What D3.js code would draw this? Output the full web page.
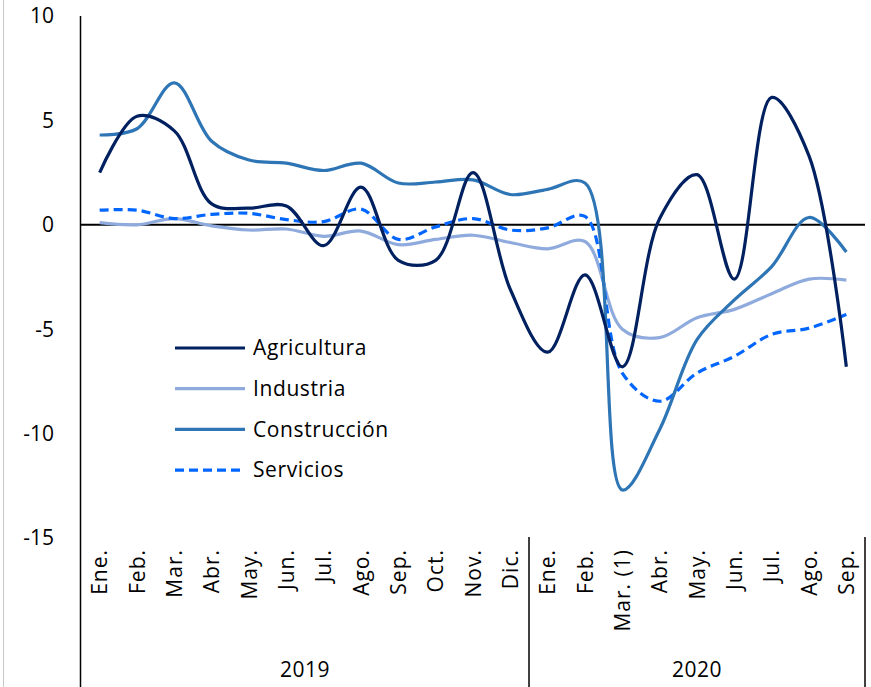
<!DOCTYPE html>
<html>
<head>
<meta charset="utf-8">
<script src="https://cdn.jsdelivr.net/npm/d3@7"></script>
<style>
  body { margin: 0; background: #fff; }
  svg { display: block; font-family: "Open Sans", Lato, sans-serif; }
</style>
</head>
<body>
<script>
var months2019 = ['Ene.', 'Feb.', 'Mar.', 'Abr.', 'May.', 'Jun.', 'Jul.', 'Ago.', 'Sep.', 'Oct.', 'Nov.', 'Dic.'];
var months2020 = ['Ene.', 'Feb.', 'Mar. (1)', 'Abr.', 'May.', 'Jun.', 'Jul.', 'Ago.', 'Sep.'];
var years = ['2019', '2020'];
var yTicks = [10, 5, 0, -5, -10, -15];

var agricultura  = [2.5, 5.2, 4.5, 1.0, 0.8, 0.9, -1.0, 1.8, -1.7, -1.7, 2.5, -3.1,
                    -6.1, -2.4, -6.8, 0.3, 2.4, -2.6, 6.1, 3.3, -6.8];
var industria    = [0.1, 0.0, 0.3, -0.05, -0.25, -0.2, -0.55, -0.3, -0.95, -0.7, -0.5, -0.85,
                    -1.15, -0.8, -5.0, -5.4, -4.45, -4.05, -3.3, -2.6, -2.65];
var construccion = [4.3, 4.6, 6.8, 4.0, 3.1, 2.95, 2.6, 2.95, 2.0, 2.05, 2.15, 1.45,
                    1.7, 2.0, -12.7, -9.8, -5.5, -3.6, -2.0, 0.35, -1.3];
var servicios    = [0.7, 0.7, 0.3, 0.5, 0.55, 0.25, 0.15, 0.75, -0.7, -0.1, 0.3, -0.25,
                    -0.15, 0.4, -7.1, -8.45, -7.1, -6.3, -5.25, -4.95, -4.3];

var seriesNames = ['Agricultura', 'Industria', 'Construcción', 'Servicios'];
var seriesColors = ['#002060', '#8faadc', '#2e75b6', '#0066ff'];
var seriesValues = [agricultura, industria, construccion, servicios];

(function(){
'use strict';

var width = 871;
var height = 687;
var plotLeft = 81, plotRight = 865, plotTop = 16, plotBottom = 538;

var categories = months2019.map(function(m){ return {label: m, year: 0}; })
  .concat(months2020.map(function(m){ return {label: m, year: 1}; }));

var svg = d3.select('body').append('svg')
  .attr('width', width)
  .attr('height', height);

var x = d3.scaleBand()
  .domain(d3.range(categories.length))
  .range([plotLeft, plotRight]);

var y = d3.scaleLinear()
  .domain([-15, 10])
  .range([plotBottom, plotTop]);

function cx(i){ return x(i) + x.bandwidth() / 2; }

// thin frame line at far left
svg.append('line')
  .attr('x1', 3.5).attr('x2', 3.5)
  .attr('y1', 0).attr('y2', height)
  .attr('stroke', '#c8c8c8').attr('stroke-width', 1);

// y axis labels
svg.selectAll('.ytick')
  .data(yTicks)
  .enter()
  .append('text')
  .attr('class', 'ytick')
  .attr('x', 54)
  .attr('y', function(d){ return y(d); })
  .attr('dy', '0.35em')
  .attr('text-anchor', 'end')
  .attr('font-size', 21)
  .attr('fill', '#000')
  .text(function(d){ return d; });

// y axis line
svg.append('line')
  .attr('x1', plotLeft - 0.5).attr('x2', plotLeft - 0.5)
  .attr('y1', plotTop).attr('y2', height)
  .attr('stroke', '#000').attr('stroke-width', 1.5);

// zero line
svg.append('line')
  .attr('x1', plotLeft).attr('x2', plotRight)
  .attr('y1', y(0)).attr('y2', y(0))
  .attr('stroke', '#000').attr('stroke-width', 2);

// year separators
var sepX = [x(months2019.length), plotRight];
svg.selectAll('.sep')
  .data(sepX)
  .enter()
  .append('line')
  .attr('x1', function(d){ return d; })
  .attr('x2', function(d){ return d; })
  .attr('y1', plotBottom - 1)
  .attr('y2', height)
  .attr('stroke', '#000').attr('stroke-width', 1.5);

// category labels
svg.selectAll('.cat')
  .data(categories)
  .enter()
  .append('text')
  .attr('class', 'cat')
  .attr('transform', function(d, i){ return 'translate(' + cx(i) + ',549) rotate(-90)'; })
  .attr('dy', '0.36em')
  .attr('text-anchor', 'end')
  .attr('font-size', 21)
  .attr('letter-spacing', 1)
  .attr('fill', '#000')
  .text(function(d){ return d.label; });

// year labels
var yearCenters = [(plotLeft + x(months2019.length)) / 2, (x(months2019.length) + plotRight) / 2];
svg.selectAll('.year')
  .data(years)
  .enter()
  .append('text')
  .attr('class', 'year')
  .attr('x', function(d, i){ return yearCenters[i]; })
  .attr('y', 670)
  .attr('dy', '0.35em')
  .attr('text-anchor', 'middle')
  .attr('font-size', 21)
  .attr('letter-spacing', 0.5)
  .attr('fill', '#000')
  .text(function(d){ return d; });

var line = d3.line()
  .x(function(d, i){ return cx(i); })
  .y(function(d){ return y(d); })
  .curve(d3.curveCatmullRom.alpha(0.5));

// back to front: industria, servicios, construccion, agricultura
var order = [1, 3, 2, 0];
order.forEach(function(k){
  svg.append('path')
    .datum(seriesValues[k])
    .attr('d', line)
    .attr('fill', 'none')
    .attr('stroke', seriesColors[k])
    .attr('stroke-width', 3.2)
    .attr('stroke-dasharray', k === 3 ? '9,5' : null);
});

// legend
var legend = svg.selectAll('.legend')
  .data(seriesNames)
  .enter()
  .append('g')
  .attr('class', 'legend')
  .attr('transform', function(d, i){ return 'translate(175,' + (348 + i * 40.7) + ')'; });

legend.append('line')
  .attr('x1', 0).attr('x2', 70)
  .attr('stroke', function(d, i){ return seriesColors[i]; })
  .attr('stroke-width', 3.2)
  .attr('stroke-dasharray', function(d, i){ return i === 3 ? '9,5' : null; });

legend.append('text')
  .attr('x', 78)
  .attr('dy', '0.35em')
  .attr('font-size', 21)
  .attr('letter-spacing', 0.6)
  .attr('fill', '#000')
  .text(function(d){ return d; });

})();
</script>
</body>
</html>
